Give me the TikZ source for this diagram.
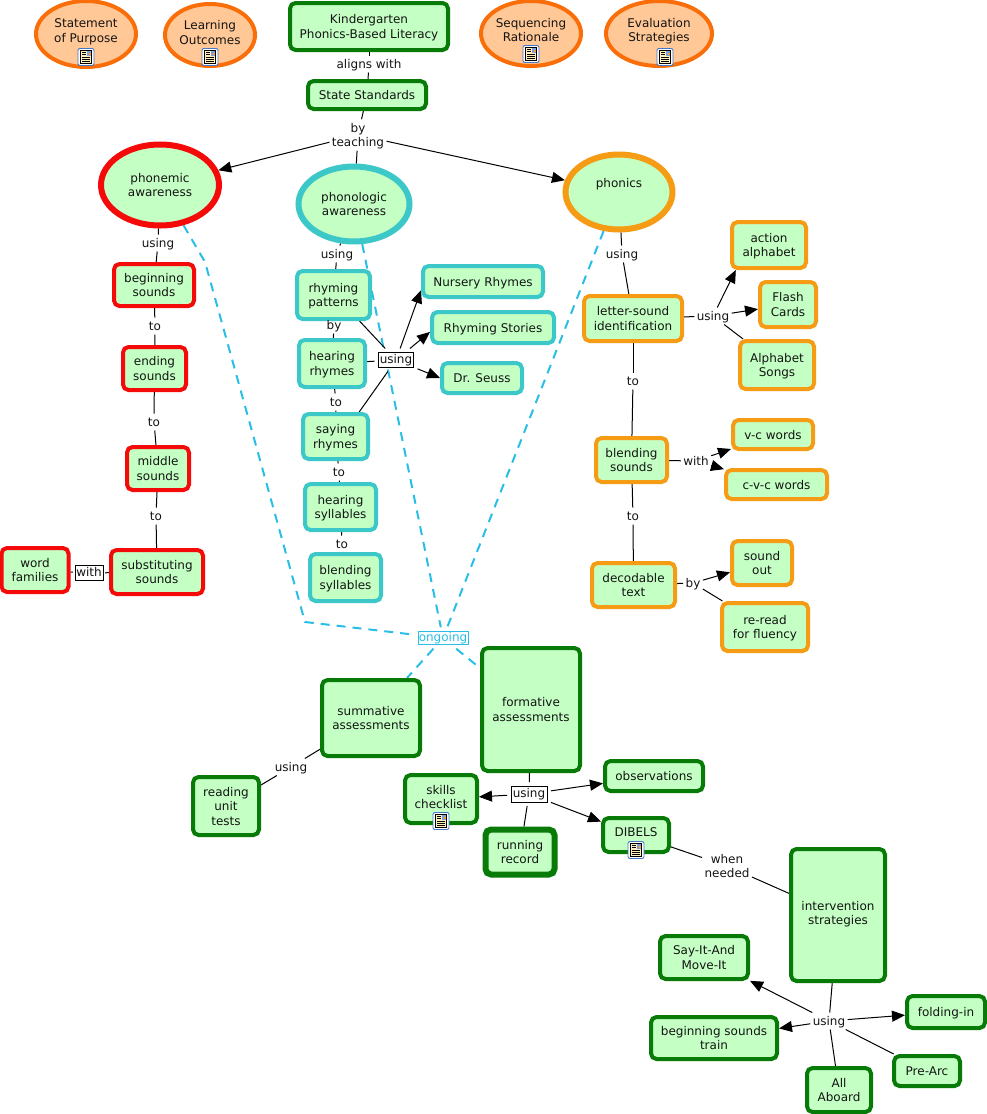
\documentclass[tikz,border=0pt]{standalone}
\usepackage{fontspec}
\setmainfont{DejaVu Sans}
\usetikzlibrary{arrows.meta,shapes.geometric,calc}
\pgfdeclarelayer{bg}
\pgfsetlayers{bg,main}
\definecolor{leaf}{HTML}{C4FFC4}
\definecolor{peach}{HTML}{FFC896}
\definecolor{pumpkin}{HTML}{FA6E0A}
\definecolor{forest}{HTML}{087A08}
\definecolor{teal2}{HTML}{3CC8C8}
\definecolor{amber}{HTML}{F59B14}
\definecolor{redb}{HTML}{F50A0A}
\definecolor{dashc}{HTML}{28BEE6}
\definecolor{ink}{HTML}{141414}
\definecolor{cream}{HTML}{FFF0BE}
\definecolor{iconb}{HTML}{4678C8}
\newcommand{\nodeH}{12pt}
\newcommand{\nodeD}{3pt}
\tikzset{
  every node/.style={font=\fontsize{12}{14.5}\selectfont,text=ink,align=center,
    execute at begin node={\rule{0pt}{\nodeH}},
    execute at end node={\rule[-\nodeD]{0pt}{\nodeD}}},
  tightlabel/.style={/utils/exec={\renewcommand{\nodeH}{10.5pt}\renewcommand{\nodeD}{3pt}}},
  ml/.style={/utils/exec={\renewcommand{\nodeH}{26.5pt}}},
  mlthree/.style={/utils/exec={\renewcommand{\nodeH}{41pt}}},
  boxb/.style={rectangle,rounded corners=5.5pt,fill=leaf,inner sep=0pt,line width=4pt},
  gbox/.style={boxb,draw=forest},
  rbox/.style={boxb,draw=redb},
  tbox/.style={boxb,draw=teal2},
  abox/.style={boxb,draw=amber},
  oell/.style={ellipse,inner sep=0pt,draw=pumpkin,fill=peach,line width=4pt},
  lbl/.style={inner xsep=1.5pt,inner ysep=0pt,outer sep=1pt},
  lblb/.style={rectangle,draw=black,line width=.8pt,fill=white,inner sep=0pt,outer sep=4pt,minimum height=15pt,tightlabel},
  con/.style={draw=black,line width=1pt},
  arr/.style={con,-{Triangle[length=13pt,width=11pt]}},
  dsh/.style={draw=dashc,line width=2pt,dash pattern=on 9pt off 7pt},
  icon/.pic={
    \draw[draw=iconb,fill=white,line width=.9pt,rounded corners=2pt] (-8,-8.5) rectangle (8,8.5);
    \fill[cream] (-5.5,-6.5) rectangle (5.5,6.5);
    \draw[black,line width=.6pt] (-5.5,-6.5) rectangle (5.5,6.5);
    \fill[iconb!70] (0.5,-6) rectangle (5,-1);
    \fill[orange!80] (2.8,-4.5) rectangle (5,-2.5);
    \draw[black,line width=.6pt] (-4,-4.5)--(-0.5,-4.5) (-4,-2.5)--(-0.5,-2.5) (-4,-.2)--(4,-.2) (-4,1.8)--(4,1.8) (-4,3.8)--(4,3.8);
  }
}
\makeatletter
\newcommand{\bx}[7][]{\begingroup\in@{\\}{#7}\ifin@\tikzset{ml}\fi
  \node[#2,minimum width=#5pt-2pt,minimum height=#6pt-2pt,#1] (#3) at (#4) {#7};\endgroup}
\makeatother
\begin{document}
\begin{tikzpicture}[x=1pt,y=-1pt]
\useasboundingbox (0,0) rectangle (987,1114);
% orange ellipses
\bx{oell}{statement}{86,34}{102}{68}{}
\node[ml] (statementt) at (86,30.5) {Statement\\of Purpose};
\pic at (86,57) {icon};
\bx{oell}{outcomes}{210,35}{92}{64}{}
\node[ml] (outcomest) at (210,32.5) {Learning\\Outcomes};
\pic at (210,57) {icon};
\bx{oell}{sequencing}{531,33.5}{102}{67}{}
\node[ml] (sequencingt) at (531,30) {Sequencing\\Rationale};
\pic at (531,54) {icon};
\bx{oell}{evaluation}{659,33.5}{108}{67}{}
\node[ml] (evaluationt) at (659,30) {Evaluation\\Strategies};
\pic at (665,57) {icon};
% top
\bx{gbox}{kinder}{369,26.5}{160}{49}{Kindergarten\\Phonics-Based Literacy}
\bx{gbox}{state}{367,95}{120}{30}{State Standards}
\node[lbl] (aligns) at (369,64) {aligns with};
\node[lbl,ml] (teaching) at (358,135) {by\\teaching};
% main ellipses
\bx[line width=6pt,draw=redb,ellipse]{boxb}{phonemic}{160,185}{120}{83}{phonemic\\awareness}
\bx[line width=6pt,draw=teal2,ellipse]{boxb}{phonologic}{354,204}{113}{77}{phonologic\\awareness}
\bx[line width=6pt,draw=amber,ellipse]{boxb}{phonics}{619,192}{109}{77}{}
\node (phonicst) at (619,183) {phonics};
% left column
\bx{rbox}{beginning}{154,285}{82}{44}{beginning\\sounds}
\bx{rbox}{ending}{154.5,368.5}{65}{45}{ending\\sounds}
\bx{rbox}{middle}{158,468.5}{64}{45}{middle\\sounds}
\bx{rbox}{substituting}{157,572}{94}{46}{substituting\\sounds}
\bx{rbox}{families}{35,570}{69}{46}{word\\families}
\node[lbl] (l1) at (158,243) {using};
\node[lbl] (l2) at (155,326) {to};
\node[lbl] (l3) at (154,422) {to};
\node[lbl] (l4) at (156,516) {to};
\node[lblb,minimum width=28pt,outer sep=2pt] (l5) at (89,573) {with};
% middle column
\bx{tbox}{rhyming}{333.5,295}{75}{50}{rhyming\\patterns}
\bx{tbox}{hearing}{332,363.5}{68}{49}{hearing\\rhymes}
\bx{tbox}{saying}{335.5,436.5}{67}{47}{saying\\rhymes}
\bx{tbox}{hearsyl}{340.5,507}{73}{48}{hearing\\syllables}
\bx{tbox}{blendsyl}{345.5,577.5}{73}{49}{blending\\syllables}
\bx{tbox}{nursery}{483,281.5}{122}{33}{Nursery Rhymes}
\bx{tbox}{stories}{493,327.5}{124}{33}{Rhyming Stories}
\bx{tbox}{seuss}{482,378}{82}{32}{Dr. Seuss}
\node[lbl] (m1) at (337,254) {using};
\node[lbl] (m2) at (334,325) {by};
\node[lbl] (m3) at (336,402) {to};
\node[lbl] (m4) at (339,472) {to};
\node[lbl] (m5) at (342,544) {to};
\node[lblb,minimum width=35pt] (m6) at (396,360) {using};
% right column
\bx{abox}{letter}{633,318.5}{100}{47}{letter-sound\\identification}
\bx{abox}{action}{769,245}{76}{48}{action\\alphabet}
\bx{abox}{flash}{788,304.5}{58}{47}{Flash\\Cards}
\bx{abox}{songs}{777,365}{76}{50}{Alphabet\\Songs}
\bx{abox}{blending}{631.5,460}{73}{46}{blending\\sounds}
\bx{abox}{vc}{773,434.5}{82}{31}{v-c words}
\bx{abox}{cvc}{776.5,484.5}{103}{31}{c-v-c words}
\bx{abox}{decodable}{633.5,585}{85}{46}{decodable\\text}
\bx{abox}{soundout}{762,563}{62}{46}{sound\\out}
\bx{abox}{reread}{765,627}{88}{50}{re-read\\for fluency}
\node[lbl] (r1) at (622,254) {using};
\node[lbl] (r2) at (713,316) {using};
\node[lbl] (r3) at (633,381) {to};
\node[lbl] (r4) at (696,461) {with};
\node[lbl] (r5) at (633,516) {to};
\node[lbl] (r6) at (693,583) {by};
% assessments
\node[lblb,draw=dashc,text=dashc,minimum width=50pt,minimum height=13pt] (ongoing) at (443,638) {ongoing};
\bx{gbox}{summative}{371,718}{100}{78}{summative\\assessments}
\bx{gbox}{formative}{531,709.5}{100}{125}{formative\\assessments}
\bx[mlthree]{gbox}{tests}{226,806}{68}{60}{reading\\unit\\tests}
\bx{gbox}{skills}{441,799}{74}{50}{}
\node[ml] (skillst) at (441,797) {skills\\checklist};
\pic at (441,821) {icon};
\bx[line width=6pt]{gbox}{running}{520,852}{71}{47}{running\\record}
\bx{gbox}{observations}{654,776}{100}{32}{observations}
\bx{gbox}{dibels}{636,835}{68}{36}{}
\node (dibelst) at (636,832) {DIBELS};
\pic at (636,850) {icon};
\node[lbl,ml] (needed) at (727,866) {when\\needed};
\node[lbl] (a1) at (291,767) {using};
\node[lblb,minimum width=36pt,minimum height=16pt] (a2) at (529,794) {using};
% intervention
\bx{gbox}{intervention}{838,915}{96}{134}{}
\node[ml] (interventiont) at (838,913) {intervention\\strategies};
\bx{gbox}{sayit}{704,957.5}{90}{45}{Say-It-And\\Move-It}
\bx{gbox}{train}{714,1038}{128}{44}{beginning sounds\\train}
\bx{gbox}{aboard}{839,1090}{66}{46}{All\\Aboard}
\bx{gbox}{prearc}{927,1071}{68}{32}{Pre-Arc}
\bx{gbox}{folding}{946,1012}{80}{34}{folding-in}
\node[lbl] (i1) at (829,1021) {using};
\coordinate (bend1) at (205,262);
\coordinate (bend2) at (305,622);
\begin{pgfonlayer}{bg}
\draw[dsh] (phonemic) -- (bend1) -- (bend2) -- (ongoing);
\draw[dsh] (phonologic) -- (ongoing);
\draw[dsh] (phonics) -- (ongoing);
\draw[dsh] (ongoing) -- (summative);
\draw[dsh] (ongoing) -- (formative);
\draw[con] (kinder) -- (aligns);
\draw[con] (aligns) -- (state);
\draw[con] (state) -- (teaching);
\draw[con] (teaching) -- (phonologic);
\draw[arr] (teaching) -- (phonemic);
\draw[arr] (teaching) -- (phonics);
\draw[con] (phonemic) -- (l1);
\draw[con] (l1) -- (beginning);
\draw[con] (beginning) -- (l2);
\draw[con] (l2) -- (ending);
\draw[con] (ending) -- (l3);
\draw[con] (l3) -- (middle);
\draw[con] (middle) -- (l4);
\draw[con] (l4) -- (substituting);
\draw[con] (substituting) -- (l5);
\draw[con] (l5) -- (families);
\draw[con] (phonologic) -- (m1);
\draw[con] (m1) -- (rhyming);
\draw[con] (rhyming) -- (m2);
\draw[con] (m2) -- (hearing);
\draw[con] (hearing) -- (m3);
\draw[con] (m3) -- (saying);
\draw[con] (saying) -- (m4);
\draw[con] (m4) -- (hearsyl);
\draw[con] (hearsyl) -- (m5);
\draw[con] (m5) -- (blendsyl);
\draw[con] (rhyming.-45) -- (m6);
\draw[con] (hearing) -- (m6);
\draw[con] (saying.46) -- (m6);
\draw[arr] (m6) -- (nursery.188);
\draw[arr] (m6) -- (stories.184);
\draw[arr] (m6) -- (seuss.west);
\draw[con] (phonics) -- (r1);
\draw[con] (r1) -- (letter);
\draw[con] (letter) -- (r2);
\draw[arr] (r2) -- (action.-143);
\draw[arr] (r2) -- (flash);
\draw[con] (r2) -- (songs);
\draw[con] (letter) -- (r3);
\draw[con] (r3) -- (blending);
\draw[con] (blending) -- (r4);
\draw[arr] (r4) -- (vc);
\draw[arr] (r4) -- (cvc);
\draw[con] (blending) -- (r5);
\draw[con] (r5) -- (decodable);
\draw[con] (decodable) -- (r6);
\draw[arr] (r6) -- (soundout);
\draw[con] (r6) -- (reread);
\draw[con] (summative) -- (a1);
\draw[con] (a1) -- (tests);
\draw[con] (formative) -- (a2);
\draw[arr] (a2) -- (skills);
\draw[arr] (a2) -- (observations);
\draw[arr] (a2) -- (dibels);
\draw[con] (a2) -- (running);
\draw[con] (dibels) -- (needed);
\draw[con] (needed) -- (intervention);
\draw[con] (intervention) -- (i1);
\draw[arr] (i1) -- (sayit);
\draw[arr] (i1) -- (train);
\draw[con] (i1) -- (aboard);
\draw[con] (i1) -- (prearc);
\draw[arr] (i1) -- (folding);
\end{pgfonlayer}
\end{tikzpicture}
\end{document}
